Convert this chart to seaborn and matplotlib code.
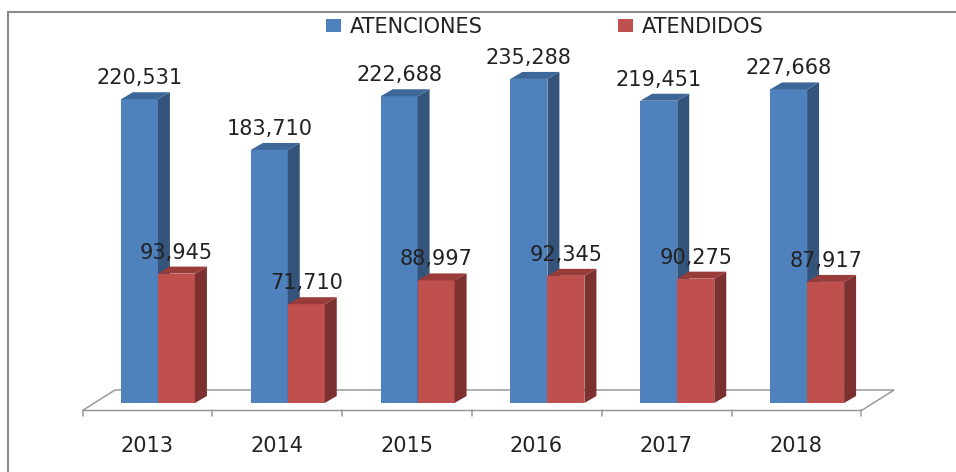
import numpy as np
import pandas as pd
import matplotlib
matplotlib.use('Agg')
import matplotlib.pyplot as plt
from matplotlib.patches import Polygon, Rectangle, Patch
from matplotlib.transforms import ScaledTranslation
import seaborn as sns

# ── data ──────────────────────────────────────────────────────────────────────
years = ['2013', '2014', '2015', '2016', '2017', '2018']
atenciones = [220531, 183710, 222688, 235288, 219451, 227668]
atendidos = [93945, 71710, 88997, 92345, 90275, 87917]
series = ['ATENCIONES', 'ATENDIDOS']
values = {'ATENCIONES': atenciones, 'ATENDIDOS': atendidos}

front_col = {'ATENCIONES': '#4F81BD', 'ATENDIDOS': '#C0504D'}
side_col = {'ATENCIONES': '#34547C', 'ATENDIDOS': '#7C302F'}
top_col = {'ATENCIONES': '#3D6699', 'ATENDIDOS': '#983B39'}

df = pd.DataFrame({
    'year': years * 2,
    'serie': [series[0]] * len(years) + [series[1]] * len(years),
    'valor': atenciones + atendidos,
})

sns.set_theme(style='white')
plt.rcParams['font.family'] = ['DejaVu Sans']
txt_col = '#222222'

W, H = 956, 472
fig = plt.figure(figsize=(W / 100, H / 100), dpi=100)
ax = fig.add_axes([93 / W, (H - 403) / H, (872 - 93) / W, 365 / H])

sns.barplot(data=df, x='year', y='valor', hue='serie', hue_order=series,
            palette=front_col, width=0.57, saturation=1, linewidth=0,
            legend=False, ax=ax)
ax.set_xlim(-0.5, 5.5)
ax.set_ylim(0, 265000)

# pixel -> data helpers
p0 = ax.transData.transform((0, 0))
p1 = ax.transData.transform((1, 1))
ppx, ppy = p1[0] - p0[0], p1[1] - p0[1]
ddx, ddy = 12 / ppx, 7 / ppy

# ── floor ─────────────────────────────────────────────────────────────────────
fx, fy = -10.5 / ppx, -7.5 / ppy
bx, by = 22 / ppx, 13 / ppy
floor = Polygon([(-0.5 + fx, fy), (5.5 + fx, fy), (5.5 + bx, by), (-0.5 + bx, by)],
                closed=True, facecolor='white', edgecolor='#9A9A9A', lw=1.1,
                zorder=1, clip_on=False)
ax.add_patch(floor)
for k in range(len(years) + 1):
    ax.plot([-0.5 + k + fx] * 2, [fy, fy - 6 / ppy], color='#9A9A9A', lw=1.1,
            clip_on=False, zorder=1)

# ── 3D faces + labels ─────────────────────────────────────────────────────────
for z, (cont, s) in enumerate(zip(ax.containers, series)):
    for bar, v in zip(cont, values[s]):
        x0, w, h = bar.get_x(), bar.get_width(), bar.get_height()
        bar.set_zorder(2 + z)
        side = Polygon([(x0 + w, 0), (x0 + w + ddx, ddy), (x0 + w + ddx, h + ddy), (x0 + w, h)],
                       closed=True, facecolor=side_col[s], lw=0, zorder=2 + z)
        top = Polygon([(x0, h), (x0 + w, h), (x0 + w + ddx, h + ddy), (x0 + ddx, h + ddy)],
                      closed=True, facecolor=top_col[s], lw=0, zorder=2 + z)
        ax.add_patch(side)
        ax.add_patch(top)
        ax.annotate(f'{v:,}', xy=(x0 + w / 2, h), xytext=(0, 15 * 0.72),
                    textcoords='offset points', ha='center', va='baseline',
                    fontsize=15, color=txt_col, zorder=10)

# ── axes styling ──────────────────────────────────────────────────────────────
sns.despine(ax=ax, left=True, bottom=True)
ax.set_xlabel('')
ax.set_ylabel('')
ax.set_yticks([])
ax.set_xticks(range(len(years)))
labels = ax.set_xticklabels(years)
ax.tick_params(axis='x', length=0, pad=23.5, labelsize=15, labelcolor=txt_col)
shift = ScaledTranslation(-11 / 100, 0, fig.dpi_scale_trans)
for lab in labels:
    lab.set_transform(lab.get_transform() + shift)

handles = [Patch(facecolor=front_col[s], edgecolor='none') for s in series]
leg = ax.legend(handles, series, loc='center', bbox_to_anchor=(544.5 / W, 1 - 27 / H),
                bbox_transform=fig.transFigure, ncol=2, frameon=False, fontsize=15,
                handlelength=0.75, handleheight=0.56, handletextpad=0.4,
                columnspacing=6.5, borderpad=0, borderaxespad=0)
for t in leg.get_texts():
    t.set_color(txt_col)

# outer frame (cropped at right and bottom)
fig.add_artist(Rectangle((8 / W, -0.1), 1.2, (H - 12) / H + 0.1, transform=fig.transFigure,
                         fill=False, edgecolor='#8A8A8A', lw=1.5))

fig.savefig('out.png', dpi=100)
